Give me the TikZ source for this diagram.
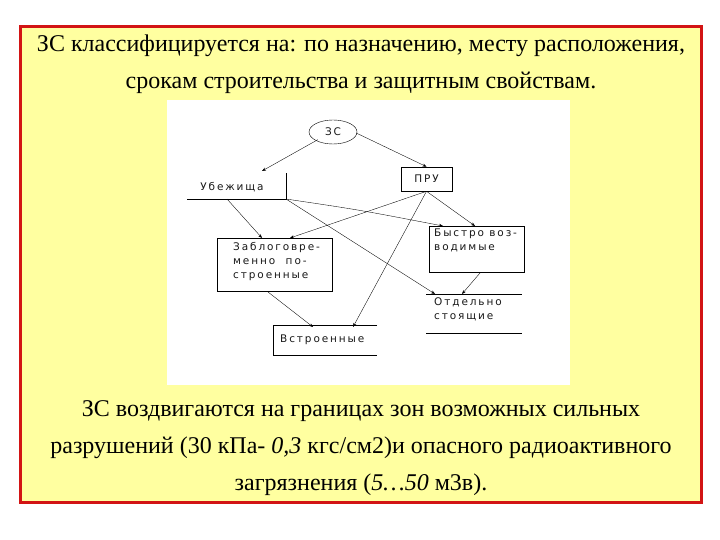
\documentclass[tikz,border=0pt]{standalone}
\usepackage{fontspec}
\setmainfont{Liberation Serif}
\newfontfamily\diag[LetterSpace=18]{DejaVu Sans}
\usetikzlibrary{arrows.meta,shapes.geometric}
\definecolor{bgy}{RGB}{255,255,160}
\definecolor{bred}{RGB}{210,20,20}
\begin{document}
\begin{tikzpicture}[x=1pt,y=-1pt,
  lbl/.style={font=\diag\fontsize{10.5}{14}\selectfont, text=black!90, align=left, inner sep=0},
  bx/.style={draw, line width=0.6pt},
  arr/.style={-{Stealth[length=4pt,width=3pt]}, line width=0.35pt},
  big/.style={font=\fontsize{24}{37}\selectfont, align=center}]
\useasboundingbox (0,0) rectangle (720,540);
\fill[white] (0,0) rectangle (720,540);
\draw[fill=bgy, draw=bred, line width=3pt] (20,27) rectangle (701,502);
\fill[white] (167,100) rectangle (570,385);
\node[big] (t1) at (361,64) {ЗС классифицируется на: по назначению, месту расположения,\\ срокам строительства и защитным свойствам.};
\node[big] (t2) at (361,448) {ЗС воздвигаются на границах зон возможных сильных\\ разрушений (30 кПа- \textit{0,3} кгс/см2)и опасного радиоактивного\\ загрязнения (\textit{5…50} м3в).};
% nodes
\node[draw, ellipse, minimum width=48, minimum height=24, inner sep=0, lbl] (zs) at (333,132) {ЗС};
\node[lbl] (ub) at (232,187) {Убежища};
\draw[line width=0.6pt] (187,199) -- (286,199) -- (286,173);
\coordinate (ubc) at (286,199);
\coordinate (ubl) at (227,199);
\node[bx, minimum width=51, minimum height=24] (pru) at (426.5,179) {};
\node[lbl] at (pru) {ПРУ};
\node[bx, minimum width=115, minimum height=53] (zab) at (274.5,264.5) {};
\node[lbl, anchor=north west] at (233,242) {Заблоговре-\\менно\ \ по-\\строенные};
\node[bx, minimum width=95, minimum height=46] (bys) at (476.5,249) {};
\node[lbl, anchor=north west] at (434,229) {Быстро воз-\\водимые};
\draw[line width=0.6pt] (426,294) -- (522,294);
\draw[line width=0.6pt] (426,333) -- (522,333);
\node[lbl, anchor=north west] (otd) at (434,298) {Отдельно\\стоящие};
\draw[line width=0.6pt] (377,325) -- (273,325) -- (273,355) -- (377,355);
\node[lbl, anchor=west] (vst) at (280,340) {Встроенные};
% arrows
\draw[arr] (zs.south west) ++(2,-1) -- (262,171);
\draw[arr] (zs.east) ++(-1,1) -- (pru.north);
\draw[arr] (ubl) -- (262,238);
\draw[arr] (ubc) .. controls (360,210) .. (443,226);
\draw[arr] (ubc) -- (435,294);
\draw[arr] (pru.south) -- (290,238);
\draw[arr] (pru.south) -- (353,327);
\draw[arr] (pru.south) -- (475,226);
\draw[arr] (268,292) -- (313,327);
\draw[arr] (480,273) -- (462,294);
\end{tikzpicture}
\end{document}
